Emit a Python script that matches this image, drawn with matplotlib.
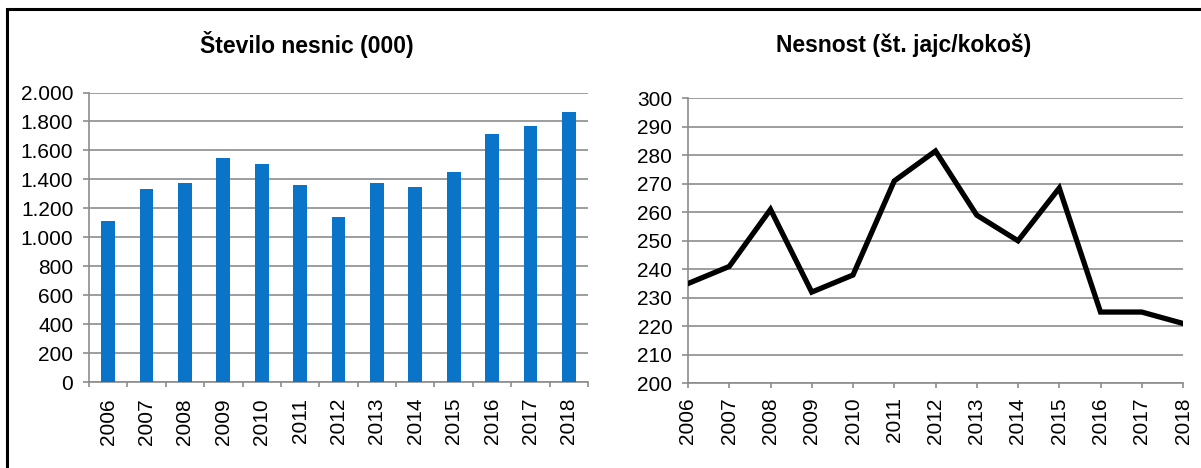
import numpy as np
import matplotlib.pyplot as plt
from matplotlib.patches import Rectangle
from matplotlib.ticker import FuncFormatter

plt.rcParams['font.family'] = ['Liberation Sans', 'DejaVu Sans']

years = ['2006', '2007', '2008', '2009', '2010', '2011', '2012',
         '2013', '2014', '2015', '2016', '2017', '2018']
laying_hens = [1110, 1335, 1378, 1545, 1505, 1362, 1140, 1378, 1350, 1450, 1715, 1768, 1868]
eggs_per_hen = [235, 241, 261, 232, 238, 271, 281.5, 259, 250, 268.5, 225, 225, 221]

grid_col = '#8c8c8c'
fs = 15
x = np.arange(len(years))

fig = plt.figure(figsize=(12.01, 4.68), dpi=100)

# outer border (only top/left visible in the reference)
fig.patches.append(Rectangle((7 / 1201, -0.05), 1.1, 1.05 - 9 / 468,
                             transform=fig.transFigure, fill=False,
                             edgecolor='black', linewidth=2.2))

def style_axes(ax):
    for s in ['top', 'right']:
        ax.spines[s].set_visible(False)
    ax.spines['left'].set_color(grid_col)
    ax.spines['bottom'].set_color(grid_col)
    ax.spines['left'].set_linewidth(1.2)
    ax.spines['bottom'].set_linewidth(1.2)
    ax.yaxis.grid(True, color=grid_col, linewidth=1.2)
    ax.set_axisbelow(True)
    ax.tick_params(axis='y', length=4.3, width=1.2, color=grid_col, labelsize=fs, pad=7)
    ax.tick_params(axis='x', length=3.6, width=1.2, color=grid_col, labelsize=fs, pad=6.5)

# left: bar chart
ax1 = fig.add_axes([89 / 1201, 1 - 382 / 468, (588 - 89) / 1201, (382 - 92.5) / 468])
ax1.bar(x, laying_hens, width=0.36, color='#0A74C8', zorder=3)
ax1.set_xlim(-0.5, len(years) - 0.5)
ax1.set_ylim(0, 2000)
ax1.set_yticks(np.arange(0, 2001, 200))
ax1.yaxis.set_major_formatter(FuncFormatter(lambda v, p: f'{int(v):,}'.replace(',', '.')))
ax1.set_xticks(np.arange(-0.5, len(years), 1))
ax1.set_xticklabels([])
ax1.set_xticks(x, minor=True)
ax1.set_xticklabels(years, minor=True, rotation=90)
style_axes(ax1)
ax1.tick_params(axis='x', which='minor', length=0, labelsize=fs, pad=11.5)

# right: line chart
ax2 = fig.add_axes([688 / 1201, 1 - 383.3 / 468, (1183 - 688) / 1201, (383.3 - 98.3) / 468])
ax2.plot(x, eggs_per_hen, color='black', linewidth=3.8, solid_joinstyle='miter', zorder=3)
ax2.set_xlim(0, len(years) - 1)
ax2.set_ylim(200, 300)
ax2.set_yticks(np.arange(200, 301, 10))
ax2.set_xticks(x)
ax2.set_xticklabels(years, rotation=90)
style_axes(ax2)

fig.text(307 / 1201, 1 - 45 / 468, 'Število nesnic (000)', ha='center', va='center',
         fontsize=16.5, fontweight='bold')
fig.text(904 / 1201, 1 - 45 / 468, 'Nesnost (št. jajc/kokoš)', ha='center', va='center',
         fontsize=16.5, fontweight='bold')

fig.savefig('out.png', dpi=100)
